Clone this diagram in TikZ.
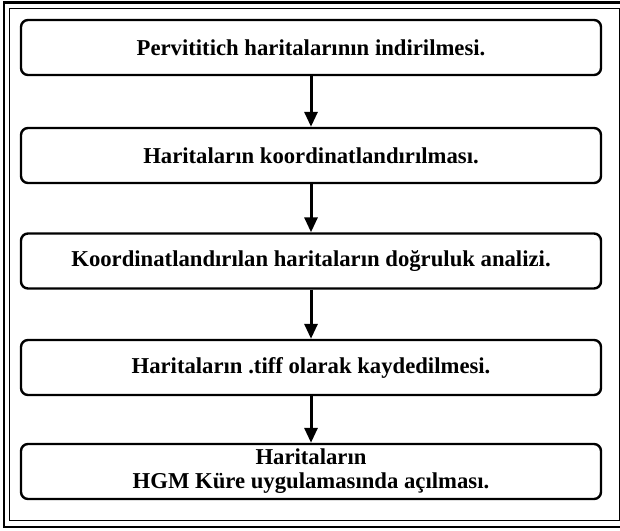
\documentclass[tikz,border=0pt]{standalone}
\usepackage{fontspec}
\setmainfont{Liberation Serif}
\usetikzlibrary{arrows.meta}
\begin{document}
\begin{tikzpicture}[x=1pt,y=-1pt,
  stepbox/.style={draw=black, line width=2.4pt, rounded corners=7pt,
    minimum width=580pt, minimum height=55pt, inner sep=0pt, align=center,
    font=\fontsize{22.7}{24}\selectfont\bfseries},
  arr/.style={line width=3pt, -{Triangle[width=13pt,length=15pt]}},
  outerframe/.style={draw=black, line width=2.6pt},
  innerframe/.style={draw=black, line width=1pt}]
\useasboundingbox (0,0) rectangle (620,530);
\draw[outerframe] (4,2.5) rectangle (624,527);
\draw[innerframe] (9,8) rectangle (619,520.5);
\node[stepbox] (b1) at (311,47.5) {Pervititich haritalarının indirilmesi.};
\node[stepbox] (b2) at (311,155.5) {Haritaların koordinatlandırılması.};
\node[stepbox] (b3) at (311,261) {Koordinatlandırılan haritaların doğruluk analizi.};
\node[stepbox] (b4) at (311,367.5) {Haritaların .tiff olarak kaydedilmesi.};
\node[stepbox] (b5) at (311,471.5) {Haritaların\\HGM Küre uygulamasında açılması.};
\draw[arr] (b1.south) -- (b2.north);
\draw[arr] (b2.south) -- (b3.north);
\draw[arr] (b3.south) -- (b4.north);
\draw[arr] (b4.south) -- (b5.north);
\end{tikzpicture}
\end{document}
